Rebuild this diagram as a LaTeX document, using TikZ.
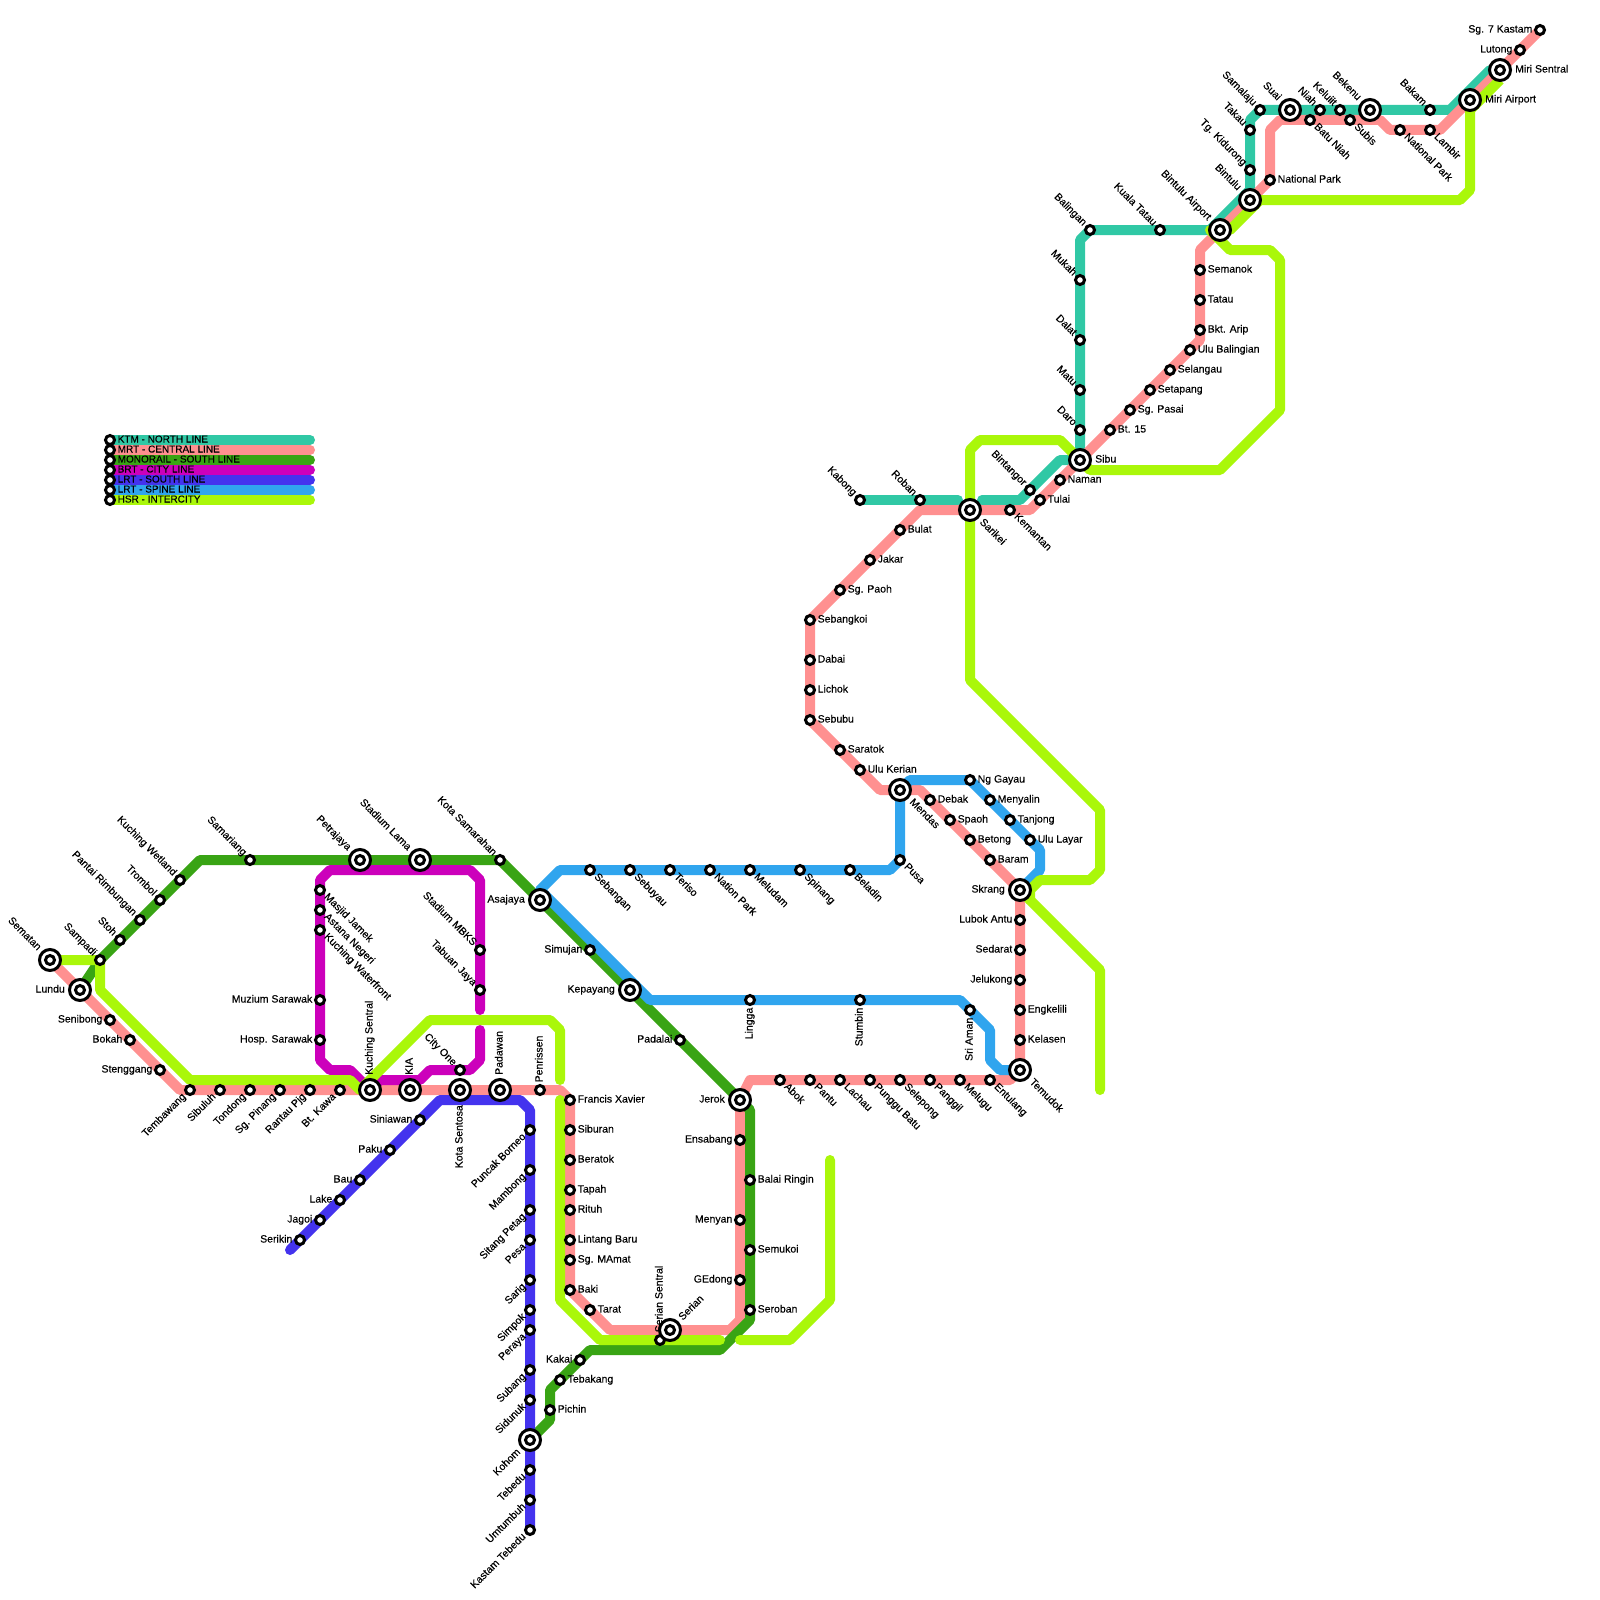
\documentclass[tikz,border=0pt]{standalone}
\usepackage{fontspec}
\newfontfamily\labfont[FakeBold=0.3]{Liberation Sans}
\usetikzlibrary{backgrounds}
\definecolor{ktm}{HTML}{30C8A5}
\definecolor{mrt}{HTML}{FF9090}
\definecolor{mono}{HTML}{39A414}
\definecolor{brt}{HTML}{CC00BB}
\definecolor{lrts}{HTML}{4433EE}
\definecolor{lrtw}{HTML}{30A5EE}
\definecolor{hsr}{HTML}{AAF70A}
\tikzset{
  line/.style={line width=10pt,line cap=round,line join=round},
  ktmline/.style={line,draw=ktm}, mrtline/.style={line,draw=mrt}, monoline/.style={line,draw=mono},
  brtline/.style={line,draw=brt}, lrtsline/.style={line,draw=lrts}, lrtwline/.style={line,draw=lrtw}, hsrline/.style={line,draw=hsr},
  stopdot/.style={circle,draw=black,fill=white,line width=3pt,minimum size=9pt,inner sep=0pt},
  bigdot/.style={circle,draw=black,fill=white,line width=3pt,minimum size=21pt,inner sep=0pt},
  lab/.style={font=\labfont\fontsize{10.5}{10.5}\selectfont,inner sep=0pt,text=black,text height=7pt,text depth=2pt},
  tE/.style={xshift=#1,anchor=west},
  tW/.style={xshift=-#1,anchor=east},
  tN/.style={yshift=#1,rotate=90,anchor=west},
  tS/.style={yshift=-#1,rotate=90,anchor=east},
  tNW/.style={xshift=-0.72*#1,yshift=0.72*#1,rotate=-45,anchor=east},
  tSE/.style={xshift=0.72*#1,yshift=-0.72*#1,rotate=-45,anchor=west},
  tNE/.style={xshift=0.72*#1,yshift=0.72*#1,rotate=45,anchor=west},
  tSW/.style={xshift=-0.72*#1,yshift=-0.72*#1,rotate=45,anchor=east},
}
\newcommand{\stn}[5]{\node[stopdot] (#1) at (#2,#3) {}; \node[lab,t#4=7.5pt] (#1-t) at (#1.center) {#5};}
\newcommand{\ich}[5]{\node[bigdot] (#1) at (#2,#3) {}; \node[stopdot] (#1-c) at (#1.center) {}; \node[lab,t#4=15pt] (#1-t) at (#1.center) {#5};}
\newcommand{\legt}[1]{{\fontsize{10}{10}\selectfont #1}}
\begin{document}
\begin{tikzpicture}[x=1pt,y=-1pt]
\useasboundingbox (0,0) rectangle (1600,1600);
% legend
\stn{lega}{110}{440}{E}{\legt{KTM - NORTH LINE}}
\stn{legb}{110}{450}{E}{\legt{MRT - CENTRAL LINE}}
\stn{legc}{110}{460}{E}{\legt{MONORAIL - SOUTH LINE}}
\stn{legd}{110}{470}{E}{\legt{BRT - CITY LINE}}
\stn{lege}{110}{480}{E}{\legt{LRT - SOUTH LINE}}
\stn{legf}{110}{490}{E}{\legt{LRT - SPINE LINE}}
\stn{legg}{110}{500}{E}{\legt{HSR - INTERCITY}}
\coordinate (legae) at (310,440); \coordinate (legbe) at (310,450); \coordinate (legce) at (310,460);
\coordinate (legde) at (310,470); \coordinate (legee) at (310,480); \coordinate (legfe) at (310,490); \coordinate (legge) at (310,500);
% monorail and west
\ich{sematan}{50}{960}{NW}{Sematan}
\ich{lundu}{80}{990}{W}{Lundu}
\stn{sampadi}{100}{960}{NW}{Sampadi}
\stn{stoh}{120}{940}{NW}{Stoh}
\stn{pantai}{140}{920}{NW}{Pantai Rimbungan}
\stn{trombol}{160}{900}{NW}{Trombol}
\stn{wetland}{180}{880}{NW}{Kuching Wetland}
\stn{samariang}{250}{860}{NW}{Samariang}
\ich{petrajaya}{360}{860}{NW}{Petrajaya}
\ich{stadiumlama}{420}{860}{NW}{Stadium Lama}
\stn{samarahan}{500}{860}{NW}{Kota Samarahan}
\ich{asajaya}{540}{900}{W}{Asajaya}
\stn{simujan}{590}{950}{W}{Simujan}
\ich{kepayang}{630}{990}{W}{Kepayang}
\stn{padalai}{680}{1040}{W}{Padalai}
\ich{jerok}{740}{1100}{W}{Jerok}
\stn{balai}{750}{1180}{E}{Balai Ringin}
\stn{semukoi}{750}{1250}{E}{Semukoi}
\stn{seroban}{750}{1310}{E}{Seroban}
\stn{kakai}{580}{1360}{W}{Kakai}
\stn{tebakang}{560}{1380}{E}{Tebakang}
\stn{pichin}{550}{1410}{E}{Pichin}
\ich{kohom}{530}{1440}{SW}{Kohom}
% central south
\stn{senibong}{110}{1020}{W}{Senibong}
\stn{bokah}{130}{1040}{W}{Bokah}
\stn{stenggang}{160}{1070}{W}{Stenggang}
\stn{tembawang}{190}{1090}{SW}{Tembawang}
\stn{sibuluh}{220}{1090}{SW}{Sibuluh}
\stn{tondong}{250}{1090}{SW}{Tondong}
\stn{sgpinang}{280}{1090}{SW}{Sg. Pinang}
\stn{rantau}{310}{1090}{SW}{Rantau Pjg}
\stn{btkawa}{340}{1090}{SW}{Bt. Kawa}
\ich{ks}{370}{1090}{N}{Kuching Sentral}
\ich{kia}{410}{1090}{N}{KIA}
\ich{sentosa}{460}{1090}{S}{Kota Sentosa}
\ich{padawan}{500}{1090}{N}{Padawan}
\stn{penrissen}{540}{1090}{N}{Penrissen}
\stn{xavier}{570}{1100}{E}{Francis Xavier}
\stn{siburan}{570}{1130}{E}{Siburan}
\stn{beratok}{570}{1160}{E}{Beratok}
\stn{tapah}{570}{1190}{E}{Tapah}
\stn{rituh}{570}{1210}{E}{Rituh}
\stn{lintang}{570}{1240}{E}{Lintang Baru}
\stn{mamat}{570}{1260}{E}{Sg. MAmat}
\stn{baki}{570}{1290}{E}{Baki}
\stn{tarat}{590}{1310}{E}{Tarat}
\stn{seriansen}{660}{1340}{N}{Serian Sentral}
\ich{serian}{670}{1330}{NE}{Serian}
\stn{gedong}{740}{1280}{W}{GEdong}
\stn{menyan}{740}{1220}{W}{Menyan}
\stn{ensabang}{740}{1140}{W}{Ensabang}
\stn{abok}{780}{1080}{SE}{Abok}
\stn{pantu}{810}{1080}{SE}{Pantu}
\stn{lachau}{840}{1080}{SE}{Lachau}
\stn{punggu}{870}{1080}{SE}{Punggu Batu}
\stn{selepong}{900}{1080}{SE}{Selepong}
\stn{panggil}{930}{1080}{SE}{Panggil}
\stn{melugu}{960}{1080}{SE}{Melugu}
\stn{entulang}{990}{1080}{SE}{Entulang}
\ich{temudok}{1020}{1070}{SE}{Temudok}
\stn{kelasen}{1020}{1040}{E}{Kelasen}
\stn{engkelili}{1020}{1010}{E}{Engkelili}
\stn{jelukong}{1020}{980}{W}{Jelukong}
\stn{sedarat}{1020}{950}{W}{Sedarat}
\stn{lubok}{1020}{920}{W}{Lubok Antu}
\ich{skrang}{1020}{890}{W}{Skrang}
\stn{baram}{990}{860}{E}{Baram}
\stn{betong}{970}{840}{E}{Betong}
\stn{spaoh}{950}{820}{E}{Spaoh}
\stn{debak}{930}{800}{E}{Debak}
\ich{mendas}{900}{790}{SE}{Mendas}
\stn{kerian}{860}{770}{E}{Ulu Kerian}
\stn{saratok}{840}{750}{E}{Saratok}
\stn{sebubu}{810}{720}{E}{Sebubu}
\stn{lichok}{810}{690}{E}{Lichok}
\stn{dabai}{810}{660}{E}{Dabai}
\stn{sebangkoi}{810}{620}{E}{Sebangkoi}
\stn{sgpaoh}{840}{590}{E}{Sg. Paoh}
\stn{jakar}{870}{560}{E}{Jakar}
\stn{bulat}{900}{530}{E}{Bulat}
\stn{kabong}{860}{500}{NW}{Kabong}
\stn{roban}{920}{500}{NW}{Roban}
\ich{sarikei}{970}{510}{SE}{Sarikei}
\stn{kemantan}{1010}{510}{SE}{Kemantan}
\stn{bintangor}{1030}{490}{NW}{Bintangor}
\stn{tulai}{1040}{500}{E}{Tulai}
\stn{naman}{1060}{480}{E}{Naman}
\ich{sibu}{1080}{460}{E}{Sibu}
\stn{daro}{1080}{430}{NW}{Daro}
\stn{matu}{1080}{390}{NW}{Matu}
\stn{dalat}{1080}{340}{NW}{Dalat}
\stn{mukah}{1080}{280}{NW}{Mukah}
\stn{balingan}{1090}{230}{NW}{Balingan}
\stn{kualatatau}{1160}{230}{NW}{Kuala Tatau}
\ich{btuair}{1220}{230}{NW}{Bintulu Airport}
\stn{bt}{1110}{430}{E}{Bt. 15}
\stn{sgpasai}{1130}{410}{E}{Sg. Pasai}
\stn{setapang}{1150}{390}{E}{Setapang}
\stn{selangau}{1170}{370}{E}{Selangau}
\stn{balingian}{1190}{350}{E}{Ulu Balingian}
\stn{bktarip}{1200}{330}{E}{Bkt. Arip}
\stn{tatau}{1200}{300}{E}{Tatau}
\stn{semanok}{1200}{270}{E}{Semanok}
\ich{bintulu}{1250}{200}{NW}{Bintulu}
\stn{npa}{1270}{180}{E}{National Park}
\stn{kidurong}{1250}{170}{NW}{Tg. Kidurong}
\stn{takau}{1250}{130}{NW}{Takau}
\stn{samalaju}{1260}{110}{NW}{Samalaju}
\ich{suai}{1290}{110}{NW}{Suai}
\stn{niah}{1320}{110}{NW}{Niah}
\stn{keluiit}{1340}{110}{NW}{Keluiit}
\stn{batuniah}{1310}{120}{SE}{Batu Niah}
\stn{subis}{1350}{120}{SE}{Subis}
\ich{bekenu}{1370}{110}{NW}{Bekenu}
\stn{bakam}{1430}{110}{NW}{Bakam}
\stn{npb}{1400}{130}{SE}{National Park}
\stn{lambir}{1430}{130}{SE}{Lambir}
\ich{miriair}{1470}{100}{E}{Miri Airport}
\ich{mirisen}{1500}{70}{E}{Miri Sentral}
\stn{lutong}{1520}{50}{W}{Lutong}
\stn{kastam}{1540}{30}{W}{Sg. 7 Kastam}
% city line
\stn{masjid}{320}{890}{SE}{Masjid Jamek}
\stn{astana}{320}{910}{SE}{Astana Negeri}
\stn{waterfront}{320}{930}{SE}{Kuching Waterfront}
\stn{muzium}{320}{1000}{W}{Muzium Sarawak}
\stn{hosp}{320}{1040}{W}{Hosp. Sarawak}
\stn{mbks}{480}{950}{NW}{Stadium MBKS}
\stn{tabuan}{480}{990}{NW}{Tabuan Jaya}
\stn{cityone}{460}{1070}{NW}{City One}
% south LRT
\stn{serikin}{300}{1240}{W}{Serikin}
\stn{jagoi}{320}{1220}{W}{Jagoi}
\stn{lake}{340}{1200}{W}{Lake}
\stn{bau}{360}{1180}{W}{Bau}
\stn{paku}{390}{1150}{W}{Paku}
\stn{siniawan}{420}{1120}{W}{Siniawan}
\stn{puncak}{530}{1130}{SW}{Puncak Borneo}
\stn{mambong}{530}{1170}{SW}{Mambong}
\stn{sitang}{530}{1210}{SW}{Sitang Petag}
\stn{pesa}{530}{1240}{SW}{Pesa}
\stn{sarig}{530}{1280}{SW}{Sarig}
\stn{simpok}{530}{1310}{SW}{Simpok}
\stn{peraya}{530}{1330}{SW}{Peraya}
\stn{subang}{530}{1370}{SW}{Subang}
\stn{sidunuk}{530}{1400}{SW}{Sidunuk}
\stn{tebedu}{530}{1470}{SW}{Tebedu}
\stn{umtumbuh}{530}{1500}{SW}{Umtumbuh}
\stn{ktebedu}{530}{1530}{SW}{Kastam Tebedu}
% spine
\stn{sebangan}{590}{870}{SE}{Sebangan}
\stn{sebuyau}{630}{870}{SE}{Sebuyau}
\stn{teriso}{670}{870}{SE}{Teriso}
\stn{nation}{710}{870}{SE}{Nation Park}
\stn{meludam}{750}{870}{SE}{Meludam}
\stn{spinang}{800}{870}{SE}{Spinang}
\stn{beladin}{850}{870}{SE}{Beladin}
\stn{pusa}{900}{860}{SE}{Pusa}
\stn{nggayau}{970}{780}{E}{Ng Gayau}
\stn{menyalin}{990}{800}{E}{Menyalin}
\stn{tanjong}{1010}{820}{E}{Tanjong}
\stn{ululayar}{1030}{840}{E}{Ulu Layar}
\stn{lingga}{750}{1000}{S}{Lingga}
\stn{stumbin}{860}{1000}{S}{Stumbin}
\stn{sriaman}{970}{1010}{S}{Sri Aman}
\begin{scope}[on background layer]
\fill[white] (0,0) rectangle (1600,1600);
% KTM
\draw[ktmline] (kabong.center)--(roban.center)--(958,500);
\draw[ktmline] (982,500)--(1020,500)--(bintangor.center)--(1060,460)--(sibu.center)--(daro.center)--(matu.center)--(dalat.center)--(mukah.center)--(1080,240)--(balingan.center)--(kualatatau.center)--(1210,230)--(1250,190)--(kidurong.center)--(takau.center)--(1250,120)--(samalaju.center)--(suai.center)--(niah.center)--(keluiit.center)--(bekenu.center)--(bakam.center)--(1450,110)--(1490,70);
\draw[ktmline] (lega.center)--(legae);
% MRT
\draw[mrtline] (sematan.center)--(lundu.center)--(senibong.center)--(bokah.center)--(stenggang.center)--(180,1090)--(tembawang.center)--(sibuluh.center)--(tondong.center)--(sgpinang.center)--(rantau.center)--(btkawa.center)--(ks.center)--(kia.center)--(sentosa.center)--(padawan.center)--(penrissen.center)--(560,1090)--(xavier.center)--(siburan.center)--(beratok.center)--(tapah.center)--(rituh.center)--(lintang.center)--(mamat.center)--(baki.center)--(tarat.center)--(610,1330)--(serian.center)--(730,1330)--(740,1320)--(gedong.center)--(menyan.center)--(ensabang.center)--(jerok.center)--(750,1080)--(abok.center)--(pantu.center)--(lachau.center)--(punggu.center)--(selepong.center)--(panggil.center)--(melugu.center)--(entulang.center)--(1010,1080)--(temudok.center)--(kelasen.center)--(engkelili.center)--(jelukong.center)--(sedarat.center)--(lubok.center)--(skrang.center)--(baram.center)--(betong.center)--(spaoh.center)--(debak.center)--(920,790)--(mendas.center)--(880,790)--(kerian.center)--(saratok.center)--(sebubu.center)--(lichok.center)--(dabai.center)--(sebangkoi.center)--(sgpaoh.center)--(jakar.center)--(bulat.center)--(920,510)--(sarikei.center)--(kemantan.center)--(1030,510)--(tulai.center)--(naman.center)--(sibu.center)--(bt.center)--(sgpasai.center)--(setapang.center)--(selangau.center)--(balingian.center)--(1200,340)--(bktarip.center)--(tatau.center)--(semanok.center)--(1200,250)--(btuair.center)--(bintulu.center)--(npa.center)--(1270,130)--(1280,120)--(batuniah.center)--(subis.center)--(1380,120)--(1390,130)--(npb.center)--(lambir.center)--(1440,130)--(miriair.center)--(mirisen.center)--(lutong.center)--(kastam.center);
\draw[mrtline] (legb.center)--(legbe);
% Monorail
\draw[monoline] (lundu.center)--(sampadi.center)--(stoh.center)--(pantai.center)--(trombol.center)--(wetland.center)--(200,860)--(samariang.center)--(petrajaya.center)--(stadiumlama.center)--(samarahan.center)--(asajaya.center)--(simujan.center)--(kepayang.center)--(padalai.center)--(jerok.center)--(750,1110)--(balai.center)--(semukoi.center)--(seroban.center)--(750,1320)--(720,1350)--(590,1350)--(kakai.center)--(tebakang.center)--(550,1390)--(pichin.center)--(550,1420)--(kohom.center);
\draw[monoline] (legc.center)--(legce);
% BRT
\draw[brtline] (480,1010)--(tabuan.center)--(mbks.center)--(480,880)--(470,870)--(330,870)--(320,880)--(masjid.center)--(astana.center)--(waterfront.center)--(muzium.center)--(hosp.center)--(320,1060)--(330,1070)--(350,1070)--(ks.center)--(380,1080)--(420,1080)--(430,1070)--(cityone.center)--(470,1070)--(480,1060)--(480,1030);
\draw[brtline] (legd.center)--(legde);
% LRT south
\draw[lrtsline] (290,1250)--(serikin.center)--(jagoi.center)--(lake.center)--(bau.center)--(paku.center)--(siniawan.center)--(440,1100)--(520,1100)--(530,1110)--(puncak.center)--(mambong.center)--(sitang.center)--(pesa.center)--(sarig.center)--(simpok.center)--(peraya.center)--(subang.center)--(sidunuk.center)--(kohom.center)--(tebedu.center)--(umtumbuh.center)--(ktebedu.center);
\draw[lrtsline] (lege.center)--(legee);
% LRT spine
\draw[lrtwline] (540,890)--(560,870)--(sebangan.center)--(sebuyau.center)--(teriso.center)--(nation.center)--(meludam.center)--(spinang.center)--(beladin.center)--(890,870)--(pusa.center)--(mendas.center)--(910,780)--(nggayau.center)--(menyalin.center)--(tanjong.center)--(ululayar.center)--(1040,850)--(1040,870)--(skrang.center);
\draw[lrtwline] (540,890)--(650,1000)--(lingga.center)--(stumbin.center)--(960,1000)--(sriaman.center)--(990,1030)--(990,1060)--(1000,1070)--(temudok.center);
\draw[lrtwline] (legf.center)--(legfe);
% HSR
\draw[hsrline] (sematan.center)--(sampadi.center)--(100,990)--(190,1080)--(350,1080)--(360,1090)--(370,1080)--(430,1020)--(550,1020)--(560,1030)--(560,1080);
\draw[hsrline] (560,1100)--(560,1300)--(600,1340)--(720,1340);
\draw[hsrline] (740,1340)--(790,1340)--(830,1300)--(830,1160);
\draw[hsrline] (sarikei.center)--(970,450)--(980,440)--(1060,440)--(sibu.center);
\draw[hsrline] (sarikei.center)--(970,680)--(1100,810)--(1100,870)--(1090,880)--(1040,880)--(1030,890)--(1030,900);
\draw[hsrline] (skrang.center)--(1100,970)--(1100,1090);
\draw[hsrline] (sibu.center)--(1090,470)--(1220,470)--(1280,410)--(1280,260)--(1270,250)--(1230,250)--(1210,230);
\draw[hsrline] (1230,230)--(1260,200)--(1460,200)--(1470,190)--(miriair.center);
\draw[hsrline,line cap=butt] (1470,110)--(1500,80);
\draw[hsrline] (legg.center)--(legge);
\end{scope}
\end{tikzpicture}
\end{document}
